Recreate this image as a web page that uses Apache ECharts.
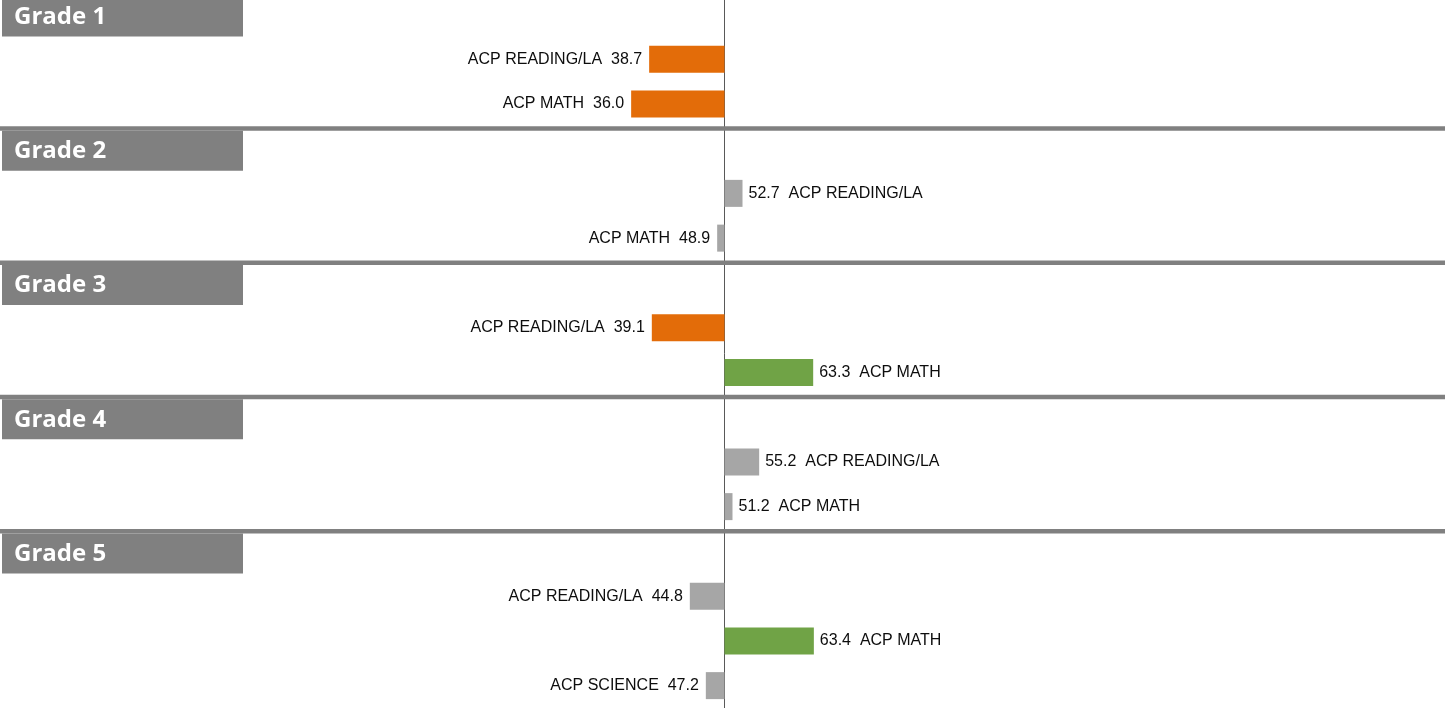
<!DOCTYPE html>
<html>
<head>
<meta charset="utf-8">
<style>
  html, body { margin: 0; padding: 0; background: #ffffff; }
  #chart { width: 1454px; height: 708px; }
</style>
<script src="https://cdn.jsdelivr.net/npm/echarts@6/dist/echarts.min.js"></script>
</head>
<body>
<div id="chart"></div>
<script>
// Grade blocks, the assessments under each grade, and their scores
const grades = ['Grade 1', 'Grade 2', 'Grade 3', 'Grade 4', 'Grade 5'];
const gradeSubjects = [
  ['ACP READING/LA', 'ACP MATH'],
  ['ACP READING/LA', 'ACP MATH'],
  ['ACP READING/LA', 'ACP MATH'],
  ['ACP READING/LA', 'ACP MATH'],
  ['ACP READING/LA', 'ACP MATH', 'ACP SCIENCE']
];
const gradeScores = [
  [38.7, 36.0],
  [52.7, 48.9],
  [39.1, 63.3],
  [55.2, 51.2],
  [44.8, 63.4, 47.2]
];
// Bars grow out from this score
const baseline = 50;
const lowCut = 40;
const highCut = 60;

const COLOR_LOW = '#E36C09';
const COLOR_HIGH = '#70A346';
const COLOR_MID = '#A6A6A6';
const HEADER_GRAY = '#808080';

// One row slot per grade header, then one per assessment
const slots = [];
const barData = [];
const headerData = [];
grades.forEach(function (g, gi) {
  headerData.push([0, slots.length, g]);
  slots.push(g);
  barData.push('-');
  gradeSubjects[gi].forEach(function (name, si) {
    const score = gradeScores[gi][si];
    const diff = +(score - baseline).toFixed(2);
    const color = score < lowCut ? COLOR_LOW : (score > highCut ? COLOR_HIGH : COLOR_MID);
    const neg = diff < 0;
    slots.push(name);
    barData.push({
      value: diff,
      name: name,
      itemStyle: { color: color },
      label: {
        show: true,
        position: neg ? 'left' : 'right',
        distance: neg ? 7 : 6,
        formatter: neg ? (name + '  ' + score.toFixed(1)) : (score.toFixed(1) + '  ' + name)
      }
    });
  });
});

const chart = echarts.init(document.getElementById('chart'), null, { renderer: 'canvas' });

chart.setOption({
  animation: false,
  backgroundColor: '#ffffff',
  grid: {
    left: 0, right: 0, top: -8, height: 716,
    containLabel: false,
    outerBoundsMode: 'none'
  },
  xAxis: {
    type: 'value',
    min: -108.65,
    max: 109.4,
    axisLine: { show: false },
    axisTick: { show: false },
    axisLabel: { show: false },
    splitLine: { show: false }
  },
  yAxis: {
    type: 'category',
    inverse: true,
    data: slots,
    axisLine: { show: true, onZero: true, lineStyle: { color: '#595959', width: 1 } },
    axisTick: { show: false },
    axisLabel: { show: false },
    splitLine: { show: false }
  },
  series: [
    {
      type: 'bar',
      data: barData,
      barWidth: 27,
      z: 2,
      label: {
        color: '#0d0d0d',
        fontFamily: '"Liberation Sans", Arial, sans-serif',
        fontSize: 16
      }
    },
    {
      // Grade header boxes and the separator rule above each block
      type: 'custom',
      z: 5,
      clip: false,
      data: headerData,
      encode: { x: 0, y: 1 },
      renderItem: function (params, api) {
        const slot = api.value(1);
        const cy = api.coord([0, slot])[1];
        const band = api.size([0, 1])[1];
        const top = cy - band / 2;
        const children = [];
        if (params.dataIndex > 0) {
          children.push({
            type: 'rect',
            shape: { x: 0, y: top, width: 1445, height: 4.5 },
            style: { fill: HEADER_GRAY }
          });
        }
        children.push({
          type: 'rect',
          shape: { x: 2, y: top + 4.5, width: 241, height: 40 },
          style: { fill: HEADER_GRAY }
        });
        children.push({
          type: 'text',
          x: 14,
          y: top + 25,
          style: {
            text: grades[params.dataIndex],
            fill: '#ffffff',
            font: 'bold 24px "Open Sans", "DejaVu Sans", sans-serif',
            verticalAlign: 'middle',
            align: 'left'
          }
        });
        return { type: 'group', children: children };
      }
    }
  ]
});
</script>
</body>
</html>
